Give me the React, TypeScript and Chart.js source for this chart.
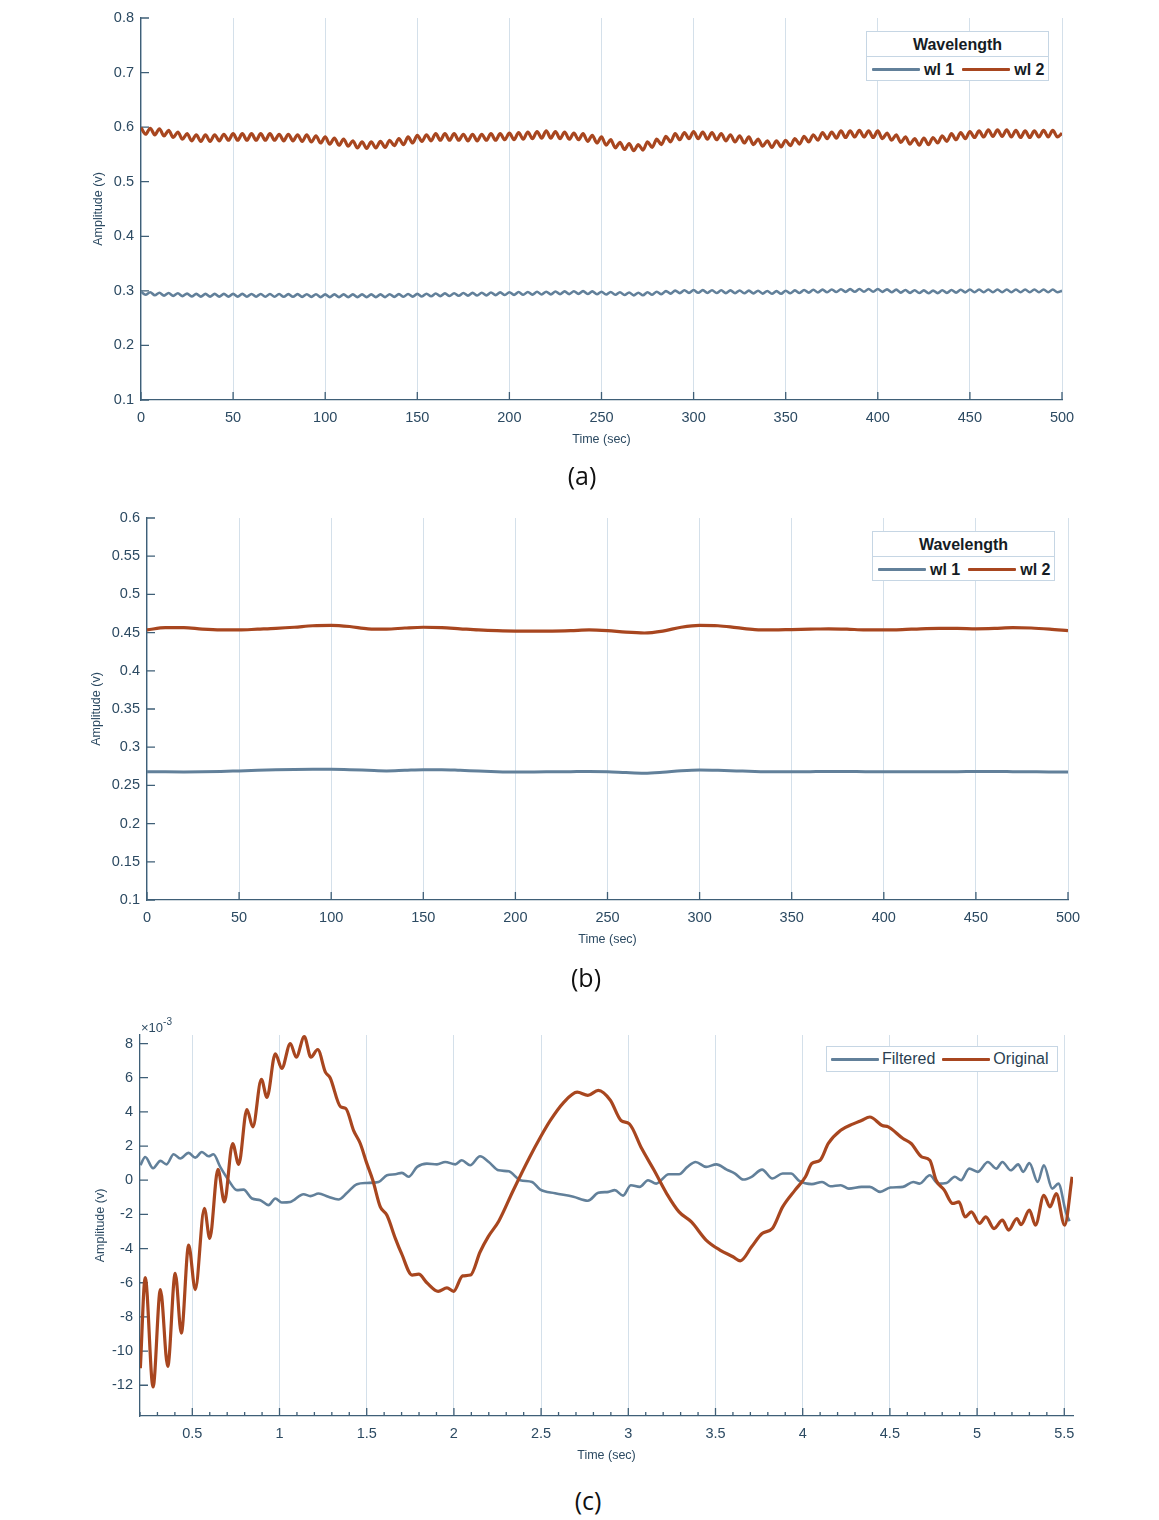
import React, { useEffect, useRef } from "react";
import { Chart, registerables } from "chart.js";

Chart.register(...registerables);

// ---------------- colours / fonts ----------------
const WL1_COLOR = "#62809a";
const WL2_COLOR = "#a8461f";
const AXIS_COLOR = "#3f5f77";
const LABEL_COLOR = "#2c4a62";
const GRID_COLOR = "#d4e0ea";
const FONT = '"Liberation Sans", Arial, sans-serif';

// ---------------- panel (a) data: amplitude (V), sampled every 2.5 s from 0 to 500 s ----------------
const sampleStepA = 2.5;
const wl1A = [
  0.2985, 0.293, 0.2975, 0.292, 0.2965, 0.2913, 0.296, 0.2908, 0.2955, 0.2903,
  0.295, 0.2898, 0.2945, 0.2895, 0.2945, 0.2895, 0.2945, 0.2895, 0.2945, 0.2895,
  0.2945, 0.2894, 0.2944, 0.2893, 0.2943, 0.2893, 0.2943, 0.2892, 0.2942, 0.2892,
  0.2942, 0.2891, 0.2941, 0.2891, 0.2941, 0.2889, 0.2939, 0.2889, 0.2939, 0.2885,
  0.2935, 0.2885, 0.2935, 0.2885, 0.2935, 0.2885, 0.2935, 0.2885, 0.2935, 0.2885,
  0.2935, 0.2885, 0.2935, 0.2886, 0.2938, 0.2889, 0.294, 0.2891, 0.2943, 0.2894,
  0.2945, 0.2897, 0.2948, 0.29, 0.2951, 0.2903, 0.2954, 0.2906, 0.2957, 0.2909,
  0.296, 0.2912, 0.2963, 0.2915, 0.2966, 0.2918, 0.2969, 0.2921, 0.2972, 0.2924,
  0.2975, 0.2926, 0.2978, 0.2929, 0.298, 0.2931, 0.2983, 0.2934, 0.2985, 0.2936,
  0.2988, 0.2939, 0.299, 0.2941, 0.2993, 0.2944, 0.2995, 0.2943, 0.299, 0.2938,
  0.2985, 0.2933, 0.298, 0.2928, 0.2975, 0.2923, 0.297, 0.2918, 0.2965, 0.292,
  0.2975, 0.293, 0.2985, 0.294, 0.2995, 0.295, 0.3005, 0.2958, 0.301, 0.2963,
  0.3015, 0.2964, 0.3013, 0.2962, 0.3012, 0.2961, 0.301, 0.2959, 0.3008, 0.2957,
  0.3007, 0.2956, 0.3005, 0.2953, 0.3002, 0.295, 0.2998, 0.2947, 0.2995, 0.2948,
  0.3002, 0.2955, 0.3008, 0.2962, 0.3015, 0.2967, 0.3019, 0.2971, 0.3023, 0.2974,
  0.3026, 0.2978, 0.303, 0.2981, 0.3032, 0.2983, 0.3033, 0.2984, 0.3034, 0.2984,
  0.3035, 0.2982, 0.3028, 0.2975, 0.3022, 0.2968, 0.3015, 0.2963, 0.3012, 0.296,
  0.3008, 0.2957, 0.3005, 0.2958, 0.301, 0.2963, 0.3015, 0.2968, 0.302, 0.2973,
  0.3025, 0.2975, 0.3025, 0.2975, 0.3025, 0.2975, 0.3025, 0.2975, 0.3025, 0.2975,
  0.3025, 0.2975, 0.3025, 0.2975, 0.3025, 0.2975, 0.3025, 0.2975, 0.3025, 0.2975,
  0.3,
];
const wl2A = [
  0.599, 0.587, 0.598, 0.586, 0.597, 0.584, 0.594, 0.581, 0.591, 0.578,
  0.588, 0.575, 0.586, 0.574, 0.586, 0.574, 0.586, 0.575, 0.587, 0.576,
  0.588, 0.576, 0.588, 0.576, 0.588, 0.576, 0.588, 0.576, 0.588, 0.576,
  0.587, 0.575, 0.587, 0.575, 0.586, 0.574, 0.586, 0.573, 0.584, 0.571,
  0.582, 0.569, 0.58, 0.567, 0.578, 0.565, 0.575, 0.562, 0.573, 0.561,
  0.573, 0.562, 0.574, 0.563, 0.576, 0.566, 0.579, 0.568, 0.582, 0.571,
  0.585, 0.574, 0.586, 0.575, 0.588, 0.576, 0.588, 0.576, 0.588, 0.576,
  0.587, 0.575, 0.587, 0.575, 0.587, 0.576, 0.588, 0.576, 0.588, 0.577,
  0.589, 0.577, 0.59, 0.578, 0.591, 0.579, 0.592, 0.58, 0.593, 0.58,
  0.592, 0.579, 0.591, 0.578, 0.589, 0.577, 0.588, 0.574, 0.585, 0.571,
  0.582, 0.567, 0.577, 0.562, 0.572, 0.559, 0.57, 0.557, 0.568, 0.558,
  0.573, 0.563, 0.578, 0.568, 0.583, 0.573, 0.588, 0.577, 0.59, 0.579,
  0.592, 0.579, 0.591, 0.578, 0.59, 0.577, 0.588, 0.575, 0.586, 0.573,
  0.584, 0.571, 0.582, 0.568, 0.578, 0.565, 0.575, 0.563, 0.575, 0.564,
  0.576, 0.566, 0.579, 0.569, 0.583, 0.573, 0.586, 0.576, 0.59, 0.579,
  0.591, 0.58, 0.593, 0.581, 0.593, 0.582, 0.594, 0.582, 0.593, 0.581,
  0.593, 0.579, 0.589, 0.576, 0.586, 0.572, 0.582, 0.569, 0.579, 0.567,
  0.58, 0.568, 0.581, 0.571, 0.584, 0.574, 0.588, 0.577, 0.59, 0.579,
  0.592, 0.581, 0.593, 0.582, 0.595, 0.583, 0.595, 0.583, 0.595, 0.582,
  0.594, 0.581, 0.593, 0.581, 0.593, 0.582, 0.594, 0.582, 0.594, 0.582,
  0.589,
];

// ---------------- panel (b) data: amplitude (V), sampled every 10 s from 0 to 500 s ----------------
const sampleStepB = 10;
const wl1B = [
  0.268, 0.2678, 0.2677, 0.2678, 0.2682, 0.269, 0.2698, 0.2704, 0.2708, 0.271,
  0.271, 0.2706, 0.2698, 0.269, 0.2698, 0.2706, 0.2706, 0.2698, 0.2688, 0.268,
  0.2676, 0.2676, 0.2678, 0.268, 0.2682, 0.268, 0.2668, 0.266, 0.2672, 0.2692,
  0.2702, 0.2698, 0.269, 0.2682, 0.2678, 0.2678, 0.268, 0.2682, 0.2682, 0.268,
  0.268, 0.268, 0.268, 0.268, 0.268, 0.2682, 0.2682, 0.268, 0.2678, 0.2676,
  0.2676,
];
const wl2B = [
  0.4535, 0.4565, 0.4565, 0.4545, 0.4535, 0.4535, 0.4545, 0.4555, 0.457, 0.459,
  0.4595, 0.458, 0.455, 0.4545, 0.456, 0.457, 0.4565, 0.455, 0.4535, 0.4525,
  0.452, 0.452, 0.452, 0.4525, 0.4535, 0.4525, 0.4505, 0.4495, 0.452, 0.457,
  0.4595, 0.459, 0.4565, 0.454, 0.4535, 0.454, 0.4545, 0.455, 0.4545, 0.4535,
  0.4535, 0.454, 0.455, 0.4555, 0.4555, 0.455, 0.4555, 0.4565, 0.456, 0.4545,
  0.4525,
];

// ---------------- panel (c) data: time (s) and amplitude (x10^-3 V) ----------------
const originalT = [
  0.202, 0.23, 0.275, 0.317, 0.359, 0.402, 0.437, 0.479, 0.517, 0.569,
  0.6, 0.647, 0.684, 0.731, 0.766, 0.813, 0.847, 0.896, 0.928, 0.976,
  1.013, 1.062, 1.096, 1.142, 1.18, 1.219, 1.263, 1.29, 1.35, 1.38,
  1.425, 1.463, 1.5, 1.535, 1.578, 1.616, 1.664, 1.7, 1.76, 1.798,
  1.845, 1.91, 1.96, 1.998, 2.05, 2.095, 2.15, 2.197, 2.257, 2.34,
  2.435, 2.495, 2.553, 2.625, 2.707, 2.768, 2.828, 2.897, 2.958, 3.006,
  3.077, 3.148, 3.22, 3.291, 3.362, 3.446, 3.528, 3.6, 3.642, 3.707,
  3.767, 3.826, 3.885, 3.956, 4.016, 4.052, 4.1, 4.147, 4.218, 4.29,
  4.337, 4.385, 4.456, 4.491, 4.575, 4.622, 4.682, 4.729, 4.765, 4.812,
  4.86, 4.896, 4.931, 4.967, 5.014, 5.05, 5.097, 5.145, 5.181, 5.228,
  5.252, 5.3, 5.335, 5.383, 5.418, 5.454, 5.502, 5.545,
];
const originalV = [
  -11.0, -5.7, -12.1, -6.4, -10.9, -5.45, -8.95, -3.8, -6.4, -1.65,
  -3.4, 0.63, -1.27, 2.15, 0.93, 4.14, 3.12, 5.9, 4.85, 7.4,
  6.55, 8.0, 7.2, 8.4, 7.2, 7.65, 6.33, 6.0, 4.3, 4.2,
  2.9, 2.15, 1.0, 0.0, -1.56, -2.05, -3.4, -4.3, -5.55, -5.5,
  -6.0, -6.5, -6.3, -6.5, -5.6, -5.55, -4.2, -3.3, -2.4, -0.6,
  1.36, 2.5, 3.5, 4.5, 5.16, 4.97, 5.26, 4.68, 3.5, 3.3,
  1.85, 0.58, -0.78, -1.85, -2.44, -3.5, -4.1, -4.48, -4.72, -3.9,
  -3.12, -2.83, -1.56, -0.58, 0.2, 0.98, 1.17, 2.15, 2.92, 3.3,
  3.5, 3.7, 3.2, 3.12, 2.44, 2.15, 1.37, 1.17, 0.0, -0.58,
  -1.36, -1.27, -2.15, -1.85, -2.53, -2.15, -2.83, -2.34, -2.92, -2.24,
  -2.6, -1.75, -2.63, -0.88, -1.56, -0.78, -2.63, 0.2,
];
const filteredT = [
  0.202, 0.23, 0.275, 0.317, 0.352, 0.393, 0.431, 0.479, 0.517, 0.555,
  0.593, 0.621, 0.66, 0.708, 0.756, 0.794, 0.842, 0.89, 0.937, 0.976,
  1.013, 1.062, 1.138, 1.177, 1.224, 1.28, 1.338, 1.386, 1.444, 1.5,
  1.568, 1.616, 1.664, 1.702, 1.74, 1.789, 1.845, 1.903, 1.95, 2.008,
  2.045, 2.093, 2.15, 2.2, 2.257, 2.315, 2.381, 2.448, 2.495, 2.58,
  2.685, 2.768, 2.828, 2.887, 2.922, 2.97, 3.015, 3.065, 3.113, 3.16,
  3.232, 3.291, 3.339, 3.386, 3.446, 3.505, 3.564, 3.612, 3.659, 3.707,
  3.767, 3.826, 3.885, 3.933, 3.98, 4.052, 4.111, 4.158, 4.218, 4.265,
  4.337, 4.385, 4.444, 4.503, 4.575, 4.634, 4.67, 4.729, 4.777, 4.825,
  4.872, 4.908, 4.955, 5.003, 5.062, 5.11, 5.145, 5.193, 5.236, 5.264,
  5.3, 5.348, 5.383, 5.431, 5.466, 5.51, 5.53,
];
const filteredV = [
  0.88, 1.36, 0.7, 1.13, 0.93, 1.52, 1.27, 1.6, 1.32, 1.65,
  1.4, 1.52, 0.78, 0.0, -0.58, -0.55, -1.07, -1.17, -1.46, -1.07,
  -1.3, -1.27, -0.82, -0.93, -0.78, -0.97, -1.13, -0.75, -0.23, -0.16,
  -0.1, 0.29, 0.35, 0.43, 0.2, 0.78, 0.97, 0.93, 1.07, 0.93,
  1.17, 0.88, 1.4, 1.07, 0.58, 0.52, 0.0, -0.1, -0.55, -0.76,
  -0.97, -1.2, -0.74, -0.68, -0.58, -0.9, -0.29, -0.39, 0.0, -0.2,
  0.35, 0.35, 0.78, 1.07, 0.78, 0.93, 0.62, 0.39, 0.04, 0.2,
  0.62, 0.1, 0.39, 0.39, -0.04, -0.23, -0.1, -0.35, -0.29, -0.49,
  -0.39, -0.39, -0.68, -0.43, -0.39, -0.1, -0.2, 0.29, -0.2, -0.16,
  0.2, 0.0, 0.68, 0.49, 1.07, 0.68, 1.07, 0.58, 0.93, 0.49,
  1.0, -0.1, 0.88, -0.49, -0.2, -1.9, -2.4,
];

// ---------------- tick labels ----------------
const xTicksAB = [0, 50, 100, 150, 200, 250, 300, 350, 400, 450, 500];
const yTicksA = [0.1, 0.2, 0.3, 0.4, 0.5, 0.6, 0.7, 0.8];
const yTicksB = [0.1, 0.15, 0.2, 0.25, 0.3, 0.35, 0.4, 0.45, 0.5, 0.55, 0.6];
const xTicksC = [0.5, 1, 1.5, 2, 2.5, 3, 3.5, 4, 4.5, 5, 5.5];
const yTicksC = [-12, -10, -8, -6, -4, -2, 0, 2, 4, 6, 8];

// ---------------- helpers ----------------
const fmt = (v: number) => String(Math.round(Number(v) * 10000) / 10000);
const toXY = (xs: number[], ys: number[]) => ys.map((y, i) => ({ x: xs[i], y }));
const uniformXY = (ys: number[], step: number) => ys.map((y, i) => ({ x: i * step, y }));

const inwardTicks = {
  id: "inwardTicks",
  beforeDatasetsDraw(chart: any, _args: any, opts: any) {
    const { ctx, chartArea } = chart;
    const xs = chart.scales.x;
    const ys = chart.scales.y;
    const L = opts.length || 8;
    ctx.save();
    ctx.strokeStyle = AXIS_COLOR;
    ctx.lineWidth = 1.3;
    ctx.beginPath();
    for (const t of xs.ticks) {
      const px = xs.getPixelForValue(t.value);
      ctx.moveTo(px, chartArea.bottom);
      ctx.lineTo(px, chartArea.bottom - L);
    }
    for (const t of ys.ticks) {
      const py = ys.getPixelForValue(t.value);
      ctx.moveTo(chartArea.left, py);
      ctx.lineTo(chartArea.left + L, py);
    }
    if (opts.minorStep) {
      const step = opts.minorStep;
      const ml = opts.minorLength || 4;
      for (let k = Math.ceil(xs.min / step - 1e-9); k * step <= xs.max + 1e-9; k++) {
        const px = xs.getPixelForValue(k * step);
        ctx.moveTo(px, chartArea.bottom);
        ctx.lineTo(px, chartArea.bottom - ml);
      }
    }
    ctx.stroke();
    ctx.restore();
  },
};

type AxisSpec = { min: number; max: number; ticks: number[] };
type PanelOpts = {
  x: AxisSpec;
  y: AxisSpec;
  pad: { left: number; right: number; top: number; bottom: number };
  yWidth: number;
  xHeight: number;
  yTitlePad: number;
  xTitlePad: number;
  minorStep?: number;
};

function buildOptions(o: PanelOpts): any {
  return {
    responsive: false,
    animation: false,
    events: [],
    layout: { padding: o.pad },
    elements: { point: { radius: 0 } },
    plugins: {
      legend: { display: false },
      tooltip: { enabled: false },
      inwardTicks: { length: 8, minorStep: o.minorStep, minorLength: 4 },
    },
    scales: {
      x: {
        type: "linear",
        min: o.x.min,
        max: o.x.max,
        afterBuildTicks: (s: any) => {
          s.ticks = o.x.ticks.map((v) => ({ value: v }));
        },
        afterFit: (s: any) => {
          s.height = o.xHeight;
        },
        grid: { display: true, color: GRID_COLOR, lineWidth: 1, drawTicks: false },
        border: { display: true, color: AXIS_COLOR, width: 1.3 },
        ticks: {
          color: LABEL_COLOR,
          font: { family: FONT, size: 14.5 },
          padding: 9,
          maxRotation: 0,
          autoSkip: false,
          callback: (v: any) => fmt(v),
        },
        title: {
          display: true,
          text: "Time (sec)",
          color: LABEL_COLOR,
          font: { family: FONT, size: 12.5 },
          padding: { top: 0, bottom: o.xTitlePad },
        },
      },
      y: {
        type: "linear",
        min: o.y.min,
        max: o.y.max,
        afterBuildTicks: (s: any) => {
          s.ticks = o.y.ticks.map((v) => ({ value: v }));
        },
        afterFit: (s: any) => {
          s.width = o.yWidth;
        },
        grid: { display: false, drawTicks: false },
        border: { display: true, color: AXIS_COLOR, width: 1.3 },
        ticks: {
          color: LABEL_COLOR,
          font: { family: FONT, size: 14.5 },
          padding: 7,
          autoSkip: false,
          callback: (v: any) => fmt(v),
        },
        title: {
          display: true,
          text: "Amplitude (v)",
          color: LABEL_COLOR,
          font: { family: FONT, size: 12.5 },
          padding: { top: o.yTitlePad, bottom: 0 },
        },
      },
    },
  };
}

function line(label: string, data: any[], color: string, width: number) {
  return {
    label,
    data,
    borderColor: color,
    backgroundColor: color,
    borderWidth: width,
    pointRadius: 0,
    fill: false,
    cubicInterpolationMode: "monotone",
  };
}

function ChartPanel({ top, height, config }: { top: number; height: number; config: any }) {
  const ref = useRef<HTMLCanvasElement | null>(null);
  useEffect(() => {
    if (!ref.current) return;
    const chart = new Chart(ref.current, config);
    return () => chart.destroy();
  }, []);
  return (
    <canvas
      ref={ref}
      width={1159}
      height={height}
      style={{ position: "absolute", left: 0, top, width: 1159, height, display: "block" }}
    />
  );
}

const configA = {
  type: "line",
  data: {
    datasets: [
      line("wl 2", uniformXY(wl2A, sampleStepA), WL2_COLOR, 3.2),
      line("wl 1", uniformXY(wl1A, sampleStepA), WL1_COLOR, 2.6),
    ],
  },
  options: buildOptions({
    x: { min: 0, max: 500, ticks: xTicksAB },
    y: { min: 0.1, max: 0.8, ticks: yTicksA },
    pad: { left: 0, right: 97, top: 18, bottom: 0 },
    yWidth: 141,
    xHeight: 60,
    yTitlePad: 91,
    xTitlePad: 12.8,
  }),
  plugins: [inwardTicks],
};

const configB = {
  type: "line",
  data: {
    datasets: [
      line("wl 2", uniformXY(wl2B, sampleStepB), WL2_COLOR, 3.2),
      line("wl 1", uniformXY(wl1B, sampleStepB), WL1_COLOR, 3),
    ],
  },
  options: buildOptions({
    x: { min: 0, max: 500, ticks: xTicksAB },
    y: { min: 0.1, max: 0.6, ticks: yTicksB },
    pad: { left: 6, right: 91, top: 18, bottom: 0 },
    yWidth: 141,
    xHeight: 60,
    yTitlePad: 83,
    xTitlePad: 12.8,
  }),
  plugins: [inwardTicks],
};

const configC = {
  type: "line",
  data: {
    datasets: [
      line("Original", toXY(originalT, originalV), WL2_COLOR, 3.2),
      line("Filtered", toXY(filteredT, filteredV), WL1_COLOR, 2.6),
    ],
  },
  options: buildOptions({
    x: { min: 0.2, max: 5.55, ticks: xTicksC },
    y: { min: -13.8, max: 8.5, ticks: yTicksC },
    pad: { left: 0, right: 86, top: 35, bottom: 0 },
    yWidth: 140,
    xHeight: 54,
    yTitlePad: 93,
    xTitlePad: 6.8,
    minorStep: 0.1,
  }),
  plugins: [inwardTicks],
};

// ---------------- HTML legends ----------------
const legendBorder = "1px solid #c6d6e4";
const legendText: React.CSSProperties = { fontFamily: FONT, fontSize: 16, color: "#151c24", lineHeight: "18px" };

function Swatch({ color }: { color: string }) {
  return <span style={{ display: "inline-block", width: 48, height: 3, background: color, borderRadius: 1 }} />;
}

function WavelengthLegend({ left, top }: { left: number; top: number }) {
  return (
    <div
      style={{
        position: "absolute",
        left,
        top,
        width: 183,
        height: 50,
        border: legendBorder,
        background: "#fff",
        boxSizing: "border-box",
      }}
    >
      <div
        style={{
          ...legendText,
          fontWeight: "bold",
          height: 24,
          lineHeight: "26px",
          textAlign: "center",
          borderBottom: legendBorder,
        }}
      >
        Wavelength
      </div>
      <div style={{ display: "flex", alignItems: "center", height: 25, paddingLeft: 5 }}>
        <Swatch color={WL1_COLOR} />
        <span style={{ ...legendText, fontWeight: "bold", marginLeft: 4, marginRight: 8 }}>wl 1</span>
        <Swatch color={WL2_COLOR} />
        <span style={{ ...legendText, fontWeight: "bold", marginLeft: 4 }}>wl 2</span>
      </div>
    </div>
  );
}

function FilterLegend({ left, top }: { left: number; top: number }) {
  return (
    <div
      style={{
        position: "absolute",
        left,
        top,
        width: 232,
        height: 26,
        border: legendBorder,
        background: "#fff",
        boxSizing: "border-box",
        display: "flex",
        alignItems: "center",
        paddingLeft: 4,
      }}
    >
      <Swatch color={WL1_COLOR} />
      <span style={{ ...legendText, color: "#2a3f52", marginLeft: 3, marginRight: 7 }}>Filtered</span>
      <Swatch color={WL2_COLOR} />
      <span style={{ ...legendText, color: "#2a3f52", marginLeft: 3 }}>Original</span>
    </div>
  );
}

function PanelLabel({ text, x, y }: { text: string; x: number; y: number }) {
  return (
    <div
      style={{
        position: "absolute",
        left: x - 40,
        top: y - 18,
        width: 80,
        height: 36,
        lineHeight: "36px",
        textAlign: "center",
        fontFamily: '"Open Sans", "DejaVu Sans", sans-serif',
        fontSize: 25,
        color: "#111111",
      }}
    >
      {text}
    </div>
  );
}

export default function App() {
  return (
    <div style={{ position: "absolute", left: 0, top: 0, width: 1159, height: 1520, background: "#fff", overflow: "hidden" }}>
      <ChartPanel top={0} height={460} config={configA} />
      <ChartPanel top={500} height={460} config={configB} />
      <ChartPanel top={1000} height={470} config={configC} />
      <WavelengthLegend left={866} top={31} />
      <WavelengthLegend left={872} top={531} />
      <FilterLegend left={826} top={1046} />
      <div
        style={{
          position: "absolute",
          left: 141,
          top: 1018,
          fontFamily: FONT,
          fontSize: 13,
          color: LABEL_COLOR,
          whiteSpace: "nowrap",
        }}
      >
        ×10<sup style={{ fontSize: 10, position: "relative", top: -2 }}>-3</sup>
      </div>
      <PanelLabel text="(a)" x={582} y={475} />
      <PanelLabel text="(b)" x={586} y={977} />
      <PanelLabel text="(c)" x={588} y={1500} />
    </div>
  );
}
